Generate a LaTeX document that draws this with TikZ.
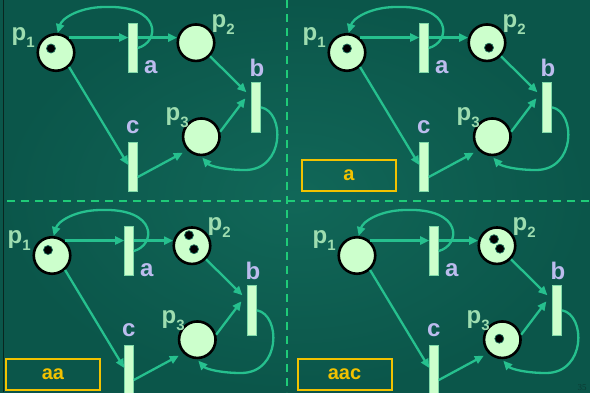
\documentclass[tikz,border=0pt]{standalone}
\usepackage{fontspec}
\setmainfont{Liberation Sans}
\newfontfamily\serifnum{Liberation Serif}
\usetikzlibrary{arrows.meta,calc}
\definecolor{bgin}{HTML}{116758}
\definecolor{bgout}{HTML}{0B564A}
\definecolor{arccol}{HTML}{26C08E}
\definecolor{placefill}{HTML}{CCFFCC}
\definecolor{transfill}{HTML}{CCFFCC}
\definecolor{transedge}{HTML}{7FD8A8}
\definecolor{tokedge}{HTML}{1E6E5A}
\definecolor{plabcol}{HTML}{9EDDB0}
\definecolor{abccol}{HTML}{BCBCEE}
\definecolor{dashcol}{HTML}{1FCB78}
\definecolor{gold}{HTML}{F2C200}
\definecolor{edgeline}{HTML}{08261F}
\definecolor{pagenum}{HTML}{0B3B33}
\newcommand\psub[1]{{\fontsize{15pt}{15pt}\selectfont\raisebox{-7pt}{#1}}}
\newcommand\petri[4]{%
\begin{scope}[shift={(#2,#3)}]
  \node[place] (p1#1) at (56,52.5) {};
  \node[place] (p2#1) at (196,42.7) {};
  \node[place] (p3#1) at (201.3,136.7) {};
  \node[trans] (a#1) at (133,48) {};
  \node[trans] (b#1) at (256.2,107.3) {};
  \node[trans] (c#1) at (133,167) {};
  \node[plab] (lp1#1) at (11.5,40) {p\psub{1}};
  \node[plab] (lp2#1) at (211.5,27) {p\psub{2}};
  \node[plab] (lp3#1) at (165.5,120) {p\psub{3}};
  \node[tlab] (la#1) at (144,73) {a};
  \node[tlab] (lb#1) at (249.5,76) {b};
  \node[tlab] (lc#1) at (126,133) {c};
  \coordinate (ka#1) at (105,7);
  \coordinate (kb#1) at (245,170);
  \draw[arc] (p1#1.50) -- (p1#1.50 -| a#1.west);
  \draw[arc] (a#1.east |- p2#1.165) -- (p2#1.165);
  \draw[arc] (a#1.east) .. controls (160,42) and (162,5) .. (ka#1)
             .. controls (80,7) and (62,18) .. (p1#1.85);
  \draw[arc] (p1#1.-48) -- ([yshift=2pt]c#1.west);
  \draw[arc] ([yshift=-10pt]c#1.east) -- ($(p3#1)+(-18.5,16)$);
  \draw[arc] (p2#1.-44) -- ($(b#1.west)+(-5,-15)$);
  \draw[arc] (p3#1.15) -- ($(b#1.west)+(-6,-9)$);
  \draw[arc] (b#1.east) .. controls (285,112) and (285,170) .. (kb#1)
             .. controls (225,170) and (210,166) .. ($(p3#1)+(1,21)$);
  #4
\end{scope}}
\begin{document}
\begin{tikzpicture}[x=1pt,y=-1pt,
  place/.style={circle,draw=black,line width=2.6pt,fill=placefill,minimum size=36.5pt,inner sep=0pt},
  trans/.style={rectangle,draw=transedge,line width=0.6pt,fill=transfill,minimum width=9pt,minimum height=49.5pt,inner sep=0pt},
  arc/.style={draw=arccol,line width=2.3pt,-{Triangle[length=9pt,width=8pt]}},
  token/.style={circle,fill=black,draw=tokedge,line width=0.7pt,minimum size=9pt,inner sep=0pt},
  plab/.style={text=plabcol,font=\fontsize{24pt}{24pt}\selectfont\bfseries,inner sep=0pt,anchor=base west},
  tlab/.style={text=abccol,font=\fontsize{24pt}{24pt}\selectfont\bfseries,inner sep=0pt,anchor=base west},
  seqbox/.style={draw=gold,line width=2pt,text=gold,font=\fontsize{20pt}{20pt}\selectfont\bfseries,inner sep=0pt,minimum width=94pt,minimum height=31pt},
  dashline/.style={draw=dashcol,line width=2pt,dash pattern=on 8pt off 6pt}
]
\useasboundingbox (0,0) rectangle (590,392);
\clip (0,0) rectangle (590,392);
\shade[inner color=bgin,outer color=bgout] (0,0) rectangle (590,392);
\draw[line width=1.5pt,edgeline] (3.5,0) -- (3.5,392);
\draw[dashline] (287,0) -- (287,392);
\draw[dashline] (7,201) -- (590,201);

\petri{A}{0}{0}{\node[token] (tA1) at ($(p1A)+(-5,-4)$) {};}
\petri{B}{291}{0}{\node[token] (tB1) at ($(p1B)+(0,-4)$) {};
  \node[token] (tB2) at ($(p2B)+(2,5)$) {};}
\petri{C}{-4}{203}{\node[token] (tC1) at ($(p1C)+(-4,-5.5)$) {};
  \node[token] (tC2) at ($(p2C)+(-3,-10.5)$) {};
  \node[token] (tC3) at ($(p2C)+(2,3.5)$) {};}
\petri{D}{301}{203}{\node[token] (tD1) at ($(p2D)+(-3,-6.5)$) {};
  \node[token] (tD2) at ($(p2D)+(3,3)$) {};
  \node[token] (tD3) at ($(p3D)+(-3,-1)$) {};}

\node[seqbox] (sB) at (349,175.5) {a};
\node[seqbox] (sC) at (53,374) {aa};
\node[seqbox] (sD) at (344.5,374) {aac};
\node[text=pagenum,font=\serifnum\fontsize{9pt}{9pt}\selectfont,inner sep=0pt] (pg) at (582,388) {35};
\end{tikzpicture}
\end{document}
